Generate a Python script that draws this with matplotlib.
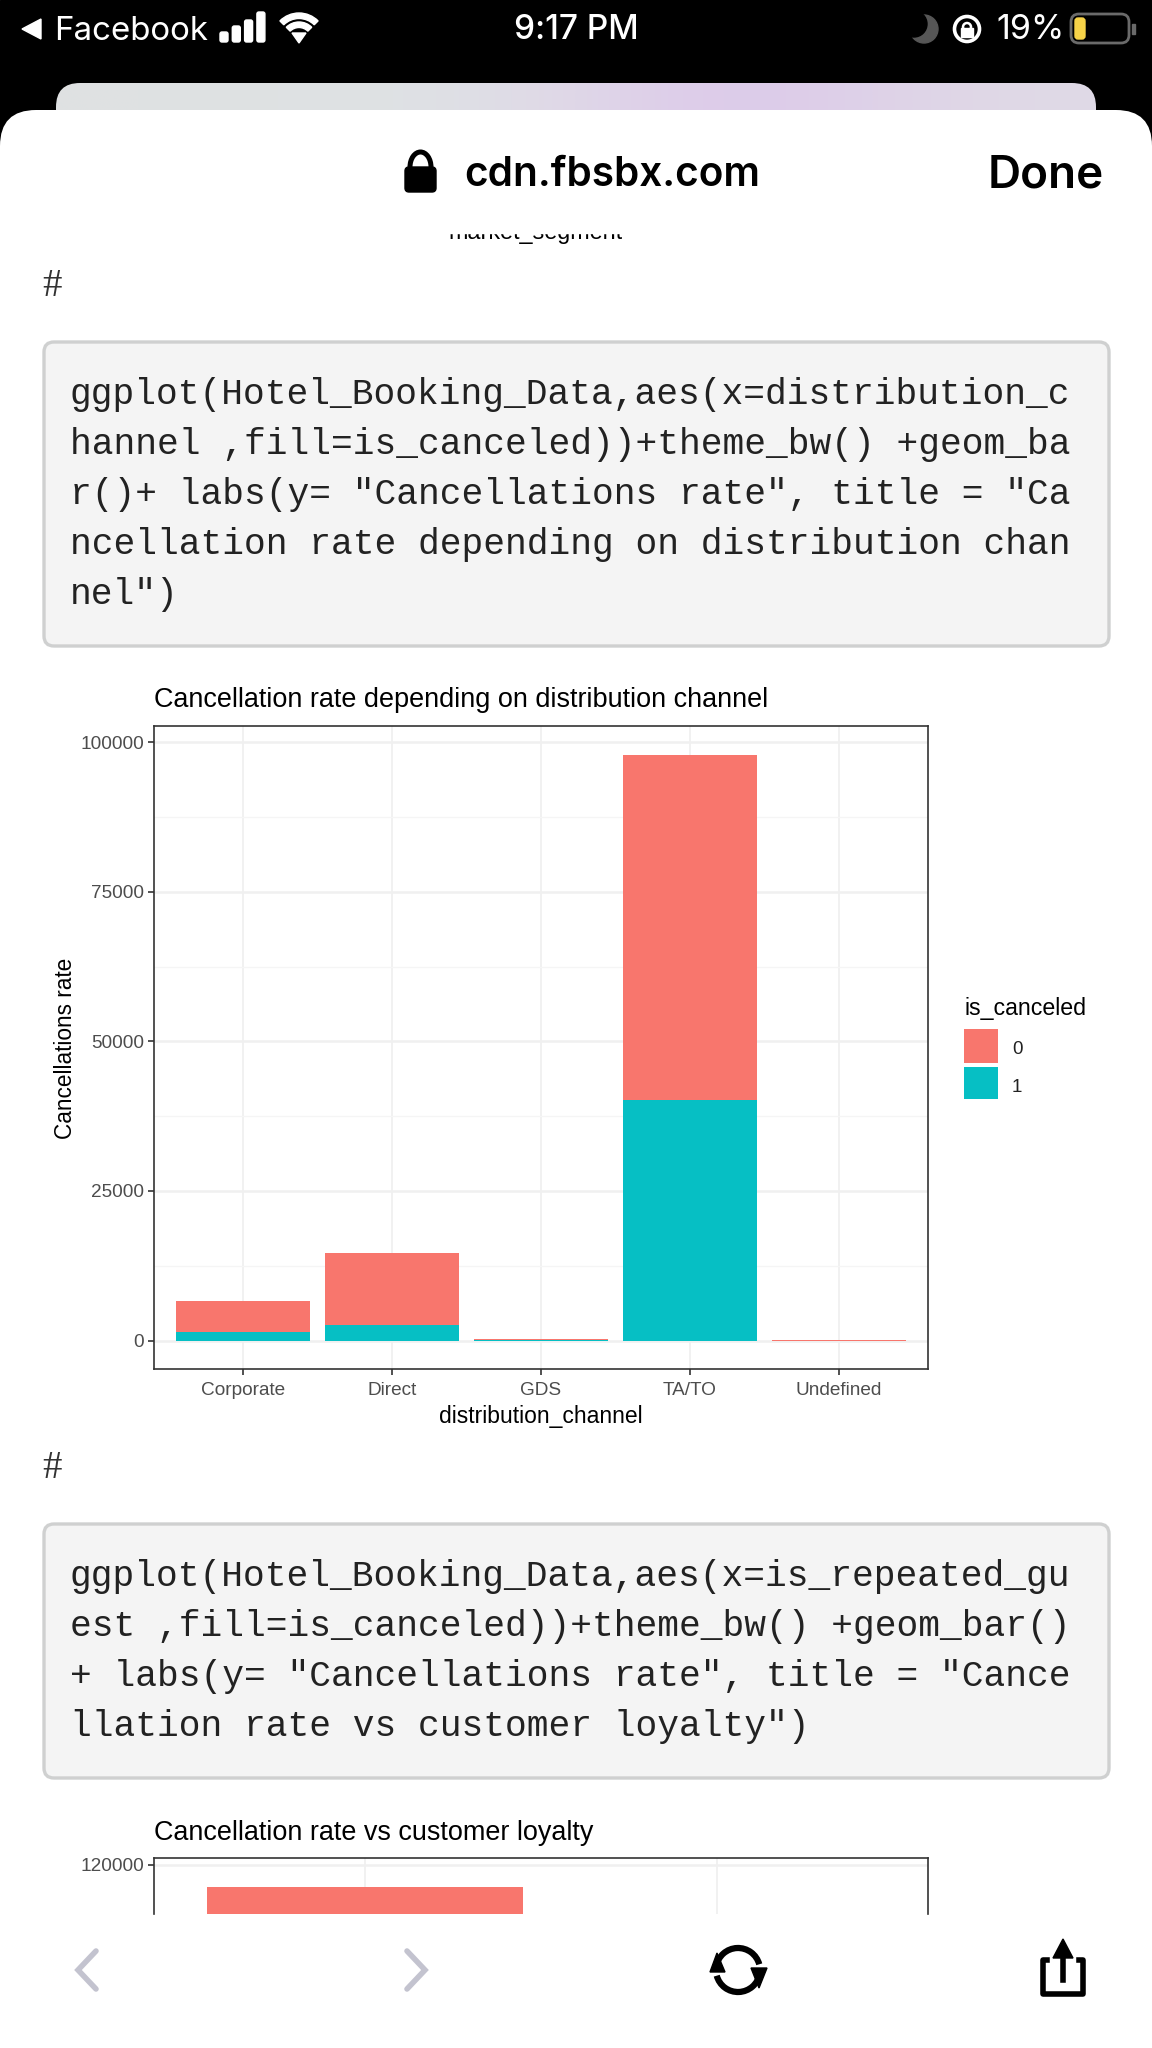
import matplotlib
matplotlib.use('Agg')
import matplotlib.pyplot as plt
import numpy as np
from matplotlib.patches import Rectangle, FancyBboxPatch, Polygon, Arc, Circle, Wedge

W, H = 1152, 2048

# first chart
channels = ['Corporate', 'Direct', 'GDS', 'TA/TO', 'Undefined']
kept_channel = [5200, 12100, 150, 57700, 150]
canceled_channel = [1500, 2600, 60, 40200, 4]
y_ticks1 = [0, 25000, 50000, 75000, 100000]
y_minor1 = [12500, 37500, 62500, 87500]

# second chart, only the top of it is on screen
guest_x = [1, 2]
kept_guest = [72000, 3400]
canceled_guest = [43600, 550]
y_ticks2 = [120000]

legend_labels = ['0', '1']
RED = '#F8766D'
TEAL = '#06BFC4'

code1 = ['ggplot(Hotel_Booking_Data,aes(x=distribution_c',
         'hannel ,fill=is_canceled))+theme_bw() +geom_ba',
         'r()+ labs(y= "Cancellations rate", title = "Ca',
         'ncellation rate depending on distribution chan',
         'nel")']
code2 = ['ggplot(Hotel_Booking_Data,aes(x=is_repeated_gu',
         'est ,fill=is_canceled))+theme_bw() +geom_bar()',
         '+ labs(y= "Cancellations rate", title = "Cance',
         'llation rate vs customer loyalty")']

plt.rcParams['font.family'] = ['Liberation Sans', 'DejaVu Sans']

fig = plt.figure(figsize=(W / 100, H / 100), dpi=100, facecolor='white')


def px_axes(left, top, right, bottom, **kw):
    return fig.add_axes([left / W, 1 - bottom / H, (right - left) / W, (bottom - top) / H], **kw)


# page background and browser chrome, in pixel coordinates
ui = px_axes(0, 0, W, H, zorder=0)
ui.set_xlim(0, W)
ui.set_ylim(H, 0)
ui.axis('off')

ui.add_patch(Rectangle((0, 0), W, 150, color='black', zorder=0))

# card behind the sheet, grey fading to lilac
card = FancyBboxPatch((56, 83), 1040, 60, boxstyle='round,pad=0,rounding_size=24', fc='none', ec='none', zorder=1)
ui.add_patch(card)
grad = np.array([[[223, 225, 226], [223, 226, 227], [222, 226, 228], [224, 216, 232],
                  [220, 200, 234], [222, 210, 232], [224, 218, 230]]]) / 255
im = ui.imshow(grad, extent=(56, 1096, 143, 83), aspect='auto', zorder=1, interpolation='bicubic')
im.set_clip_path(card)
ui.set_xlim(0, W)
ui.set_ylim(H, 0)

ui.add_patch(FancyBboxPatch((0, 110), W, H, boxstyle='round,pad=0,rounding_size=36', fc='white', ec='none', zorder=2))


def chrome_text(x, y, s, size, color='black', ha='left', weight='normal', family='Inter', z=8):
    ui.text(x, y, s, fontsize=size, color=color, ha=ha, va='center', fontweight=weight, family=family, zorder=z)


# status bar
ui.add_patch(Polygon([(41, 19), (41, 39), (22, 29)], color='white', zorder=3))
chrome_text(54, 31, 'Facebook', 23.8, 'white')
for i, h in enumerate([10, 16, 22, 30]):
    ui.add_patch(FancyBboxPatch((220 + i * 12.3, 42 - h), 8, h, boxstyle='round,pad=0,rounding_size=2', color='white', zorder=3))
for r in [24, 15]:
    ui.add_patch(Wedge((299, 40), r + 3, 225, 315, width=5.5, color='white', zorder=3))
ui.add_patch(Polygon([(292, 33), (306, 33), (299, 43)], color='white', zorder=3))
chrome_text(576, 30, '9:17 PM', 24, 'white', ha='center', weight='medium')
# crescent, a grey disc with a black one over it
ui.add_patch(Circle((924, 29), 14, color='#565656', zorder=3))
ui.add_patch(Circle((914, 24), 13, color='black', zorder=3))
ui.add_patch(Circle((967, 29), 12.5, fc='none', ec='white', lw=2.6, zorder=3))
ui.add_patch(Rectangle((961, 28), 12, 9, color='white', zorder=3))
ui.add_patch(Circle((967, 27), 4, fc='none', ec='white', lw=1.8, zorder=3))
chrome_text(996, 30, '19%', 24.5, 'white')
ui.add_patch(FancyBboxPatch((1071, 14), 58, 29, boxstyle='round,pad=0,rounding_size=8', fc='none', ec='#6a6a6a', lw=2, zorder=3))
ui.add_patch(FancyBboxPatch((1075, 18), 10, 21, boxstyle='round,pad=0,rounding_size=3', color='#f7d348', zorder=3))
ui.add_patch(Rectangle((1132, 24), 3, 10, color='#6a6a6a', zorder=3))

# header of the sheet
ui.add_patch(FancyBboxPatch((405, 167), 31, 25, boxstyle='round,pad=0,rounding_size=4', color='black', zorder=8))
ui.add_patch(Arc((420.5, 167), 21, 30, theta1=180, theta2=360, color='black', lw=3.6, zorder=8))
chrome_text(464, 175, 'cdn.fbsbx.com', 29.2, weight='semibold')
chrome_text(1104, 175, 'Done', 33, ha='right', weight='semibold')

# text of the page
ui.text(536, 233, 'market_segment', fontsize=16.8, ha='center', va='center', zorder=3)
ui.add_patch(Rectangle((300, 195), 500, 38, color='white', zorder=4))
for y in [286, 1468]:
    ui.text(52, y, '#', fontsize=28, family='Liberation Serif', color='#333333', ha='center', va='center', zorder=3)


def code_box(top, bottom, lines, ys):
    ui.add_patch(FancyBboxPatch((44, top), 1065, bottom - top, boxstyle='round,pad=0,rounding_size=10',
                                fc='#f4f4f4', ec='#cfd0d0', lw=2.4, zorder=3))
    for s, y in zip(lines, ys):
        ui.text(70, y, s, fontsize=26.1, family='Liberation Mono', color='#222222', va='center', zorder=4)


code_box(342, 646, code1, [395, 445, 494, 545, 595])
code_box(1524, 1778, code2, [1577, 1627, 1677, 1727])


def style_axes(ax, xticks, xlabels, yticks, yminor):
    ax.set_axisbelow(True)
    ax.set_xticks(xticks)
    ax.set_xticklabels(xlabels)
    ax.set_yticks(yticks)
    ax.set_yticks(yminor, minor=True)
    ax.grid(True, which='major', axis='y', color='#f0f0f0', lw=1.8)
    ax.grid(True, which='major', axis='x', color='#efefef', lw=1.2)
    ax.grid(True, which='minor', axis='y', color='#f5f5f5', lw=1.0)
    ax.tick_params(which='minor', length=0)
    ax.tick_params(which='major', length=4, width=1.2, color='#333333', labelcolor='#4d4d4d', labelsize=13.7, pad=3)
    ax.tick_params(axis='x', which='major', pad=5.5)
    for sp in ax.spines.values():
        sp.set_color('#333333')
        sp.set_linewidth(1.2)


# first chart
ax1 = px_axes(154, 726, 928, 1369, zorder=2)
x1 = np.arange(1, len(channels) + 1)
ax1.bar(x1, canceled_channel, width=0.9, color=TEAL, lw=0)
ax1.bar(x1, kept_channel, width=0.9, bottom=canceled_channel, color=RED, lw=0)
ax1.set_xlim(0.4, 5.6)
ax1.set_ylim(-4745, 102690)
style_axes(ax1, x1, channels, y_ticks1, y_minor1)
ui.text(154, 700, 'Cancellation rate depending on distribution channel', fontsize=19.45, va='center', zorder=3)
ui.text(541, 1416, 'distribution_channel', fontsize=16.5, ha='center', va='center', zorder=3)
ui.text(66, 1048, 'Cancellations rate', fontsize=16.3, rotation=90, ha='center', va='center', zorder=3)

# legend
ui.text(964, 1008, 'is_canceled', fontsize=16.7, va='center', zorder=3)
for label, color, top, bottom in zip(legend_labels, [RED, TEAL], [1029, 1067], [1063, 1099]):
    ui.add_patch(Rectangle((964, top), 34, bottom - top, color=color, lw=0, zorder=3))
    ui.text(1012, (top + bottom) / 2 + 4, label, fontsize=13.5, color='#222222', va='center', zorder=3)

# second chart, cut off by the toolbar
ax2 = px_axes(154, 1858, 928, 1914, zorder=2)
ax2.bar(guest_x, canceled_guest, width=0.9, color=TEAL, lw=0)
ax2.bar(guest_x, kept_guest, width=0.9, bottom=canceled_guest, color=RED, lw=0)
ax2.set_xlim(0.4, 2.6)
ax2.set_ylim(110285, 121359)
style_axes(ax2, guest_x, ['', ''], y_ticks2, [])
ax2.tick_params(axis='x', length=0)
ax2.spines['bottom'].set_visible(False)
ui.text(154, 1833, 'Cancellation rate vs customer loyalty', fontsize=19.45, va='center', zorder=3)

# bottom toolbar
for pts in [[(96, 1951), (78, 1970), (96, 1989)], [(407, 1951), (425, 1970), (407, 1989)]]:
    ui.plot(*zip(*pts), color='#c3c3cf', lw=4, solid_capstyle='round', solid_joinstyle='miter', zorder=8)
ui.add_patch(Arc((738, 1970), 44, 44, theta1=190, theta2=345, color='black', lw=4.5, zorder=8))
ui.add_patch(Arc((738, 1970), 44, 44, theta1=10, theta2=165, color='black', lw=4.5, zorder=8))
ui.add_patch(Polygon([(710, 1972), (725, 1972), (717, 1953)], color='black', zorder=8))
ui.add_patch(Polygon([(751, 1968), (767, 1968), (759, 1988)], color='black', zorder=8))
ui.plot([1047, 1043, 1043, 1083, 1083, 1079], [1960, 1960, 1994, 1994, 1960, 1960], color='black', lw=4,
        solid_joinstyle='round', zorder=8)
ui.plot([1063, 1063], [1950, 1980], color='black', lw=4, zorder=8)
ui.add_patch(Polygon([(1053, 1958), (1073, 1958), (1063, 1939)], color='black', zorder=8))

fig.savefig('out.png', dpi=100)
